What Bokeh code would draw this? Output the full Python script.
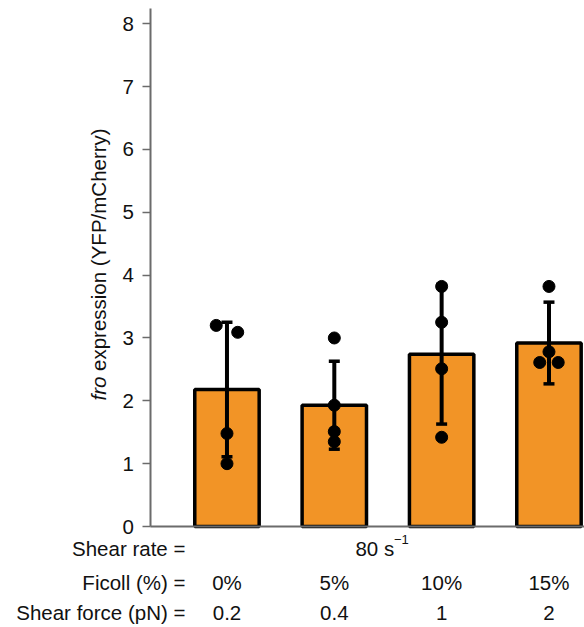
import numpy as np
from bokeh.plotting import figure
from bokeh.models import (ColumnDataSource, Range1d, LinearAxis, FixedTicker,
                          Whisker, TeeHead)
from bokeh.core.properties import value
from bokeh.embed import file_html
from bokeh.resources import INLINE

# ---------------- data ----------------
ficoll = ["0%", "5%", "10%", "15%"]
shear_force = ["0.2", "0.4", "1", "2"]
row_labels = ["Shear rate =", "Ficoll (%) =", "Shear force (pN) ="]
shear_rate_text = "80 s"
shear_rate_exp = "\u22121"
y_label_italic = "fro"
y_label_rest = "expression (YFP/mCherry)"

mean_expr = [2.18, 1.93, 2.74, 2.92]
sd_expr = [1.07, 0.70, 1.11, 0.65]
rep_0 = [3.20, 3.09, 1.48, 1.00]
rep_5 = [3.00, 1.93, 1.51, 1.35]
rep_10 = [3.82, 3.25, 2.51, 1.42]
rep_15 = [3.82, 2.78, 2.61, 2.61]
replicates = [rep_0, rep_5, rep_10, rep_15]
# horizontal jitter of replicate dots (category units)
jitter = [[-0.10, 0.10, 0.0, 0.0],
          [0.0, 0.0, 0.0, 0.0],
          [0.0, 0.0, 0.0, 0.0],
          [0.0, 0.0, -0.086, 0.086]]
y_ticks = [0, 1, 2, 3, 4, 5, 6, 7, 8]

# ---------------- layout constants ----------------
X_START, X_END = -1.110, 4.331
Y_START, Y_END = -1.607, 8.370
AXIS_X = 0.292
FONT = "Liberation Sans"
TXT = "#111111"
AX = "#6b6b6b"
ORANGE = "#F29426"
FS = "20.5px"

xs = [i + 1 for i in range(len(ficoll))]
src = ColumnDataSource(dict(
    x=xs, mean=mean_expr,
    upper=[m + s for m, s in zip(mean_expr, sd_expr)],
    lower=[m - s for m, s in zip(mean_expr, sd_expr)],
))
px, py = [], []
for i, reps in enumerate(replicates):
    for j, v in enumerate(reps):
        px.append(xs[i] + jitter[i][j])
        py.append(v)

p = figure(width=584, height=627,
           x_range=Range1d(X_START, X_END), y_range=Range1d(Y_START, Y_END),
           x_axis_type=None, y_axis_type=None,
           toolbar_location=None, output_backend="svg",
           min_border=0, outline_line_color=None)
p.background_fill_color = "white"
p.border_fill_color = "white"

p.vbar(x="x", top="mean", bottom=0, width=0.6, source=src,
       fill_color=ORANGE, line_color="black", line_width=3.5)

whisk = Whisker(source=src, base="x", upper="upper", lower="lower",
                line_color="black", line_width=4, level="overlay",
                upper_head=TeeHead(size=11, line_color="black", line_width=3.5),
                lower_head=TeeHead(size=11, line_color="black", line_width=3.5))
p.add_layout(whisk)

p.scatter(px, py, size=12, color="black", level="overlay")

yaxis = LinearAxis(fixed_location=AXIS_X, bounds=(0, 8.24),
                   ticker=FixedTicker(ticks=y_ticks),
                   axis_line_color=AX, axis_line_width=2,
                   major_tick_line_color=AX, major_tick_line_width=1.5,
                   major_tick_in=0, major_tick_out=8,
                   minor_tick_in=0, minor_tick_out=0,
                   major_label_text_font=FONT,
                   major_label_text_font_size=FS,
                   major_label_text_color=TXT,
                   major_label_standoff=9)
p.add_layout(yaxis, "left")

xaxis = LinearAxis(fixed_location=0, bounds=(AXIS_X, X_END),
                   ticker=FixedTicker(ticks=[]),
                   axis_line_color=AX, axis_line_width=2,
                   major_tick_in=0, major_tick_out=0,
                   minor_tick_in=0, minor_tick_out=0,
                   major_label_text_font_size="0px")
p.add_layout(xaxis, "below")

common = dict(text_font=value(FONT), text_font_size=value(FS),
              text_color=TXT, text_baseline="alphabetic")

row_y = [-0.355, -0.890, -1.375]
p.text(x=[0.613] * 3, y=row_y, text=row_labels, text_align="right", **common)
p.text(x=xs, y=[row_y[1]] * 4, text=ficoll, text_align="center", **common)
p.text(x=xs, y=[row_y[2]] * 4, text=shear_force, text_align="center", **common)
p.text(x=[2.197], y=[row_y[0]], text=[shear_rate_text], text_align="left", **common)
p.text(x=[2.555], y=[-0.205], text=[shear_rate_exp], text_align="left",
       text_font=value(FONT), text_font_size=value("13px"), text_color=TXT,
       text_baseline="alphabetic")

p.text(x=[-0.197], y=[2.005], text=[y_label_italic], angle=np.pi / 2,
       text_align="left", text_baseline="middle", text_font_style="italic",
       text_font=value(FONT), text_font_size=value(FS), text_color=TXT)
p.text(x=[-0.197], y=[2.475], text=[y_label_rest], angle=np.pi / 2,
       text_align="left", text_baseline="middle",
       text_font=value(FONT), text_font_size=value(FS), text_color=TXT)

open("out.html", "w").write(file_html(p, INLINE))
